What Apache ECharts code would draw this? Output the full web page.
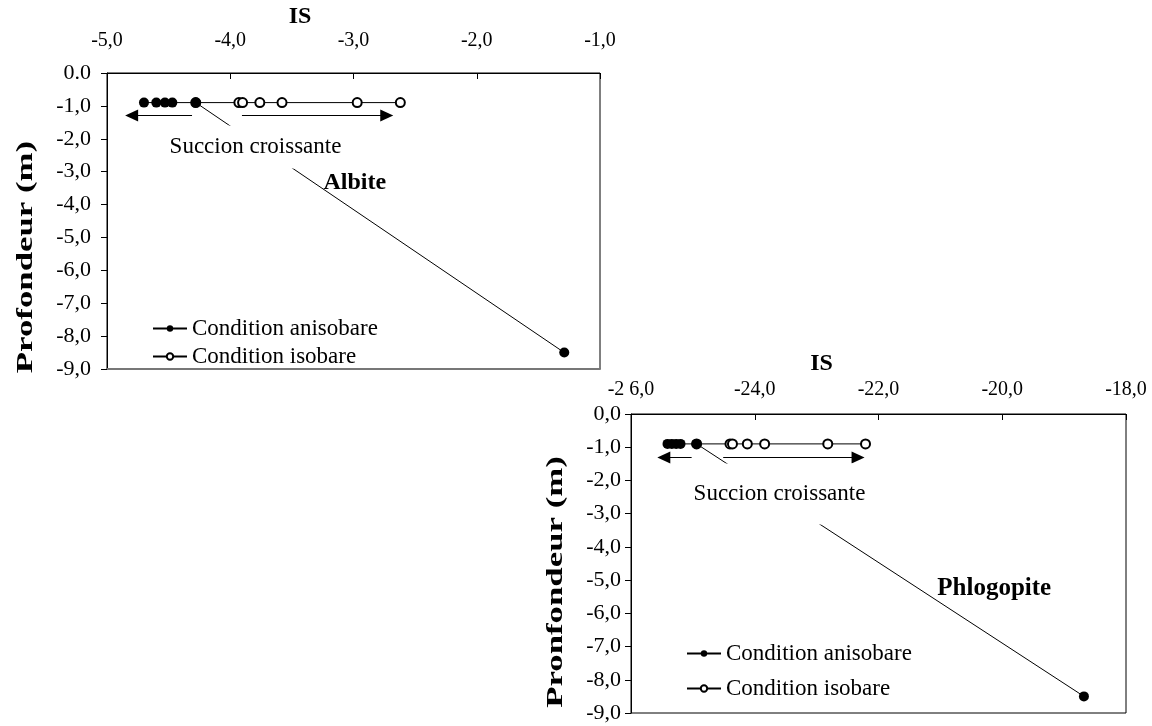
<!DOCTYPE html>
<html>
<head>
<meta charset="utf-8">
<script src="https://cdn.jsdelivr.net/npm/echarts@6/dist/echarts.min.js"></script>
<style>
html,body{margin:0;padding:0;background:#fff;}
#c{width:1152px;height:726px;}
</style>
</head>
<body>
<div id="c"></div>
<script>
// ---- Data ----
const albiteAnisoIS    = [-4.70, -4.60, -4.53, -4.47, -4.28, -1.29];
const albiteAnisoDepth = [-0.9, -0.9, -0.9, -0.9, -0.9, -8.5];
const albiteIsoIS      = [-4.28, -3.93, -3.90, -3.76, -3.58, -2.97, -2.62];
const albiteIsoDepth   = [-0.9, -0.9, -0.9, -0.9, -0.9, -0.9, -0.9];

const phlogAnisoIS     = [-25.41, -25.34, -25.27, -25.20, -24.94, -18.68];
const phlogAnisoDepth  = [-0.9, -0.9, -0.9, -0.9, -0.9, -8.5];
const phlogIsoIS       = [-24.94, -24.40, -24.36, -24.12, -23.84, -22.82, -22.21];
const phlogIsoDepth    = [-0.9, -0.9, -0.9, -0.9, -0.9, -0.9, -0.9];

// tick labels
const albiteXTicks = ["-5,0", "-4,0", "-3,0", "-2,0", "-1,0"];
const albiteYTicks = ["0.0", "-1,0", "-2,0", "-3,0", "-4,0", "-5,0", "-6,0", "-7,0", "-8,0", "-9,0"];
const phlogXTicks  = ["-2 6,0", "-24,0", "-22,0", "-20,0", "-18,0"];
const phlogYTicks  = ["0,0", "-1,0", "-2,0", "-3,0", "-4,0", "-5,0", "-6,0", "-7,0", "-8,0", "-9,0"];

const seriesNames = ["Condition anisobare", "Condition isobare"];
const albiteTitle = "Albite";
const phlogTitle = "Phlogopite";
const annotText = "Succion croissante";

// annotation anchor points (data space)
const albiteArrowLeft  = [[-4.31, -1.29], [-4.80, -1.29]];
const albiteArrowRight = [[-3.905, -1.29], [-2.73, -1.29]];
const albiteTextAt  = [-3.795, -2.25];
const albiteNameAt  = [-2.99, -3.34];
const phlogArrowLeft  = [[-25.02, -1.31], [-25.47, -1.31]];
const phlogArrowRight = [[-24.51, -1.31], [-22.33, -1.31]];
const phlogTextAt  = [-23.60, -2.41];
const phlogNameAt  = [-20.13, -5.24];

const FONT = "Liberation Serif";
const pairs = (xs, ys) => xs.map((x, i) => [x, ys[i]]);

function anisoSeries(name, xi, data) {
  return {
    name: name, type: 'line', xAxisIndex: xi, yAxisIndex: xi, data: data,
    symbol: 'circle', symbolSize: 10, z: 4,
    lineStyle: {color: '#000', width: 1},
    itemStyle: {color: '#000'},
    emphasis: {disabled: true}, animation: false
  };
}
function isoSeries(name, xi, data) {
  return {
    name: name, type: 'line', xAxisIndex: xi, yAxisIndex: xi, data: data,
    symbol: 'emptyCircle', symbolSize: 9, z: 3,
    lineStyle: {color: '#000', width: 1},
    itemStyle: {color: '#000', borderWidth: 1, borderColor: '#000'},
    emphasis: {disabled: true}, animation: false
  };
}
function annotSeries(xi, arrL, arrR, textAt, nameAt, title, pad, titleSize) {
  return {
    name: 'annot' + xi, type: 'line', xAxisIndex: xi, yAxisIndex: xi, data: [], z: 6,
    animation: false, silent: true,
    markLine: {
      silent: true, animation: false,
      symbol: ['none', 'triangle'], symbolSize: [12, 13],
      lineStyle: {color: '#000', width: 1, type: 'solid'},
      label: {show: false},
      emphasis: {disabled: true},
      data: [
        [{coord: arrL[0]}, {coord: arrL[1]}],
        [{coord: arrR[0]}, {coord: arrR[1]}]
      ]
    },
    markPoint: {
      silent: true, animation: false,
      symbol: 'circle', symbolSize: 1,
      itemStyle: {color: 'rgba(0,0,0,0)'},
      data: [
        {coord: textAt, label: {show: true, position: 'inside', formatter: annotText,
          fontFamily: FONT, fontSize: 23, color: '#000', backgroundColor: '#fff', padding: pad}},
        {coord: nameAt, label: {show: true, position: 'inside', formatter: title,
          fontFamily: FONT, fontSize: titleSize, fontWeight: 'bold', color: '#000'}}
      ]
    }
  };
}

function xAxisCfg(gi, min, max, interval, labels, margin, namePadRight, nameGap) {
  return {
    gridIndex: gi, type: 'value', position: 'top', min: min, max: max, interval: interval,
    name: 'IS', nameLocation: 'middle', nameGap: nameGap,
    nameTextStyle: {fontFamily: FONT, fontSize: 24, fontWeight: 'bold', color: '#000',
      padding: [0, namePadRight, 0, 0]},
    axisLine: {show: true, lineStyle: {color: '#000', width: 1}},
    axisTick: {show: true, inside: true, length: 6, lineStyle: {color: '#000'}},
    axisLabel: {fontFamily: FONT, fontSize: 20, color: '#000', margin: margin,
      formatter: v => labels[Math.round((v - min) / interval)]},
    splitLine: {show: false}
  };
}
function yAxisCfg(gi, labels, margin, fs) {
  return {
    gridIndex: gi, type: 'value', min: -9, max: 0, interval: 1,
    axisLine: {show: true, lineStyle: {color: '#000', width: 1}},
    axisTick: {show: true, inside: false, length: 6, lineStyle: {color: '#000'}},
    axisLabel: {fontFamily: FONT, fontSize: fs, color: '#000', margin: margin,
      formatter: v => labels[Math.round(-v)]},
    splitLine: {show: false}
  };
}

const chart = echarts.init(document.getElementById('c'), null, {renderer: 'canvas'});
chart.setOption({
  backgroundColor: '#fff',
  animation: false,
  grid: [
    {left: 107, top: 73, width: 493, height: 296, show: true, borderColor: '#000', borderWidth: 1,
     backgroundColor: 'transparent', containLabel: false, outerBoundsMode: 'none'},
    {left: 631, top: 414, width: 495, height: 299, show: true, borderColor: '#000', borderWidth: 1,
     backgroundColor: 'transparent', containLabel: false, outerBoundsMode: 'none'}
  ],
  xAxis: [
    xAxisCfg(0, -5, -1, 1, albiteXTicks, 22, 107, 44),
    xAxisCfg(1, -26, -18, 2, phlogXTicks, 14, 114, 38),
    {gridIndex: 0, type: 'value', position: 'bottom', min: -5, max: -1, interval: 1,
     axisLine: {show: true, lineStyle: {color: '#777', width: 2}},
     axisTick: {show: false}, axisLabel: {show: false}, splitLine: {show: false}}
  ],
  yAxis: [
    yAxisCfg(0, albiteYTicks, 16, 22),
    yAxisCfg(1, phlogYTicks, 10, 22)
  ],
  legend: [
    {orient: 'vertical', left: 147, top: 312, itemWidth: 34, itemHeight: 8, itemGap: 5,
     data: seriesNames, selectedMode: false,
     textStyle: {fontFamily: FONT, fontSize: 23, color: '#000'}},
    {orient: 'vertical', left: 681, top: 637, itemWidth: 34, itemHeight: 8, itemGap: 12,
     data: seriesNames, selectedMode: false,
     textStyle: {fontFamily: FONT, fontSize: 23, color: '#000'}}
  ],
  graphic: [
    {type: 'text', x: 26, y: 257, rotation: Math.PI / 2, scaleX: 1.45,
     style: {text: 'Profondeur (m)', font: 'bold 24px "Liberation Serif"', fill: '#000', align: 'center', verticalAlign: 'middle'}},
    {type: 'text', x: 556, y: 582, rotation: Math.PI / 2, scaleX: 1.45,
     style: {text: 'Pronfondeur (m)', font: 'bold 24px "Liberation Serif"', fill: '#000', align: 'center', verticalAlign: 'middle'}}
  ],
  series: [
    anisoSeries(seriesNames[0], 0, pairs(albiteAnisoIS, albiteAnisoDepth)),
    isoSeries(seriesNames[1], 0, pairs(albiteIsoIS, albiteIsoDepth)),
    anisoSeries(seriesNames[0], 1, pairs(phlogAnisoIS, phlogAnisoDepth)),
    isoSeries(seriesNames[1], 1, pairs(phlogIsoIS, phlogIsoDepth)),
    annotSeries(0, albiteArrowLeft, albiteArrowRight, albiteTextAt, albiteNameAt, albiteTitle, [10, 4, 10, 4], 24),
    annotSeries(1, phlogArrowLeft, phlogArrowRight, phlogTextAt, phlogNameAt, phlogTitle, [20, 4, 18, 4], 25)
  ]
});
</script>
</body>
</html>
